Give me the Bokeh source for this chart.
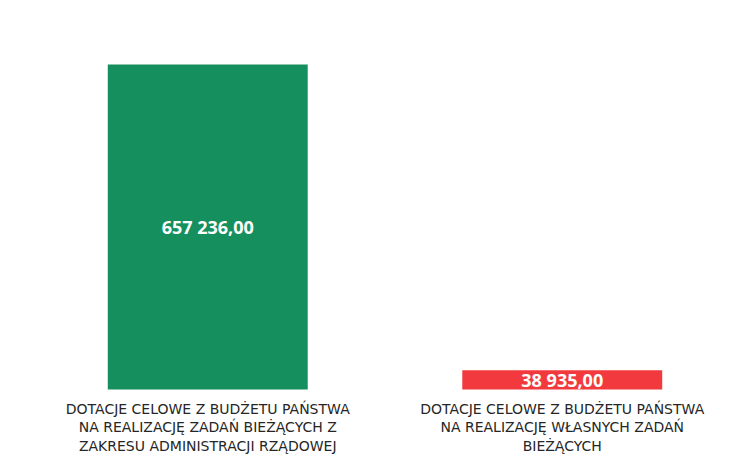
from bokeh.plotting import figure
from bokeh.models import FactorRange, ColumnDataSource, Range1d
from bokeh.core.properties import value
from bokeh.embed import file_html
from bokeh.resources import INLINE

categories = [
    "DOTACJE CELOWE Z BUDŻETU PAŃSTWA\nNA REALIZACJĘ ZADAŃ BIEŻĄCYCH Z\nZAKRESU ADMINISTRACJI RZĄDOWEJ",
    "DOTACJE CELOWE Z BUDŻETU PAŃSTWA\nNA REALIZACJĘ WŁASNYCH ZADAŃ\nBIEŻĄCYCH",
]
keys = ["c1", "c2"]
values = [657236.00, 38935.00]
value_labels = ["657 236,00", "38 935,00"]
colors = ["#148F5D", "#F23A3E"]

src = ColumnDataSource(dict(
    x=keys, top=values, mid=[v / 2 for v in values],
    lab=value_labels, color=colors, cat=categories, zero=[0, 0],
))

# pixel mapping: bar bottom at y=389, tallest bar top at y=64 (window height 466)
H = 466
scale = max(values) / (389 - 64)
y_top = max(values) + 64 * scale
y_bot = -(H - 389) * scale

p = figure(width=746, height=H, x_range=FactorRange(*keys, range_padding=0),
           y_range=Range1d(y_bot, y_top), output_backend="svg",
           toolbar_location=None, min_border_left=30, min_border_right=7,
           min_border_top=0, min_border_bottom=0)
p.axis.visible = False
p.grid.visible = False
p.outline_line_color = None
p.background_fill_color = "white"
p.border_fill_color = "white"

p.vbar(x="x", top="top", bottom=0, width=0.564, fill_color="color",
       line_color=None, source=src)

p.text(x="x", y="mid", text="lab", source=src, text_align="center",
       text_baseline="middle", text_color="white", text_font_size="18px",
       text_font_style="bold", text_font=value("Open Sans"))

p.text(x="x", y="zero", text="cat", source=src, text_align="center",
       text_baseline="top", y_offset=11, text_color="#262626",
       text_font_size="14px", text_line_height=1.18,
       text_font=value("DejaVu Sans"))

open("out.html", "w").write(file_html(p, INLINE))
